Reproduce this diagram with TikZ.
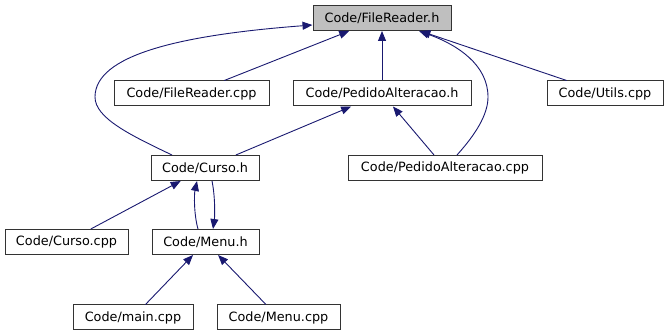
\documentclass[tikz,border=0pt]{standalone}
\usepackage{fontspec}
\setmainfont{DejaVu Sans}
\usetikzlibrary{arrows.meta,calc}
\definecolor{edgeblue}{HTML}{191970}
\definecolor{boxgray}{HTML}{BFBFBF}
\begin{document}
\begin{tikzpicture}[x=1pt,y=-1pt,
  file/.style={draw=black!80,line width=1pt,fill=white,inner sep=0pt,
    minimum height=25pt,font=\fontsize{12.8}{14}\selectfont},
  root/.style={file,fill=boxgray},
  dep/.style={draw=edgeblue,line width=0.9pt,
    -{Triangle[length=10pt,width=8pt]}}]
\useasboundingbox (0,0) rectangle (669,336);
% files
\node[root,minimum width=138pt] (frh) at (382,18) {Code/FileReader.h};
\node[file,minimum width=155pt] (frcpp) at (191.5,93.5) {Code/FileReader.cpp};
\node[file,minimum width=178pt] (pah) at (382,93.5) {Code/PedidoAlteracao.h};
\node[file,minimum width=116pt] (utils) at (605,93.5) {Code/Utils.cpp};
\node[file,minimum width=108pt] (cursoh) at (205,168) {Code/Curso.h};
\node[file,minimum width=194pt] (pacpp) at (445,168) {Code/PedidoAlteracao.cpp};
\node[file,minimum width=123pt] (cursocpp) at (66.5,242) {Code/Curso.cpp};
\node[file,minimum width=107pt] (menuh) at (205.5,242) {Code/Menu.h};
\node[file,minimum width=120pt] (maincpp) at (133,317.5) {Code/main.cpp};
\node[file,minimum width=123pt] (menucpp) at (278.5,317.5) {Code/Menu.cpp};
% include edges
\draw[dep] (frcpp) -- (frh);
\draw[dep] (pah) -- (frh);
\draw[dep] (utils) -- (frh);
\draw[dep] (cursoh) -- (pah);
\draw[dep] (pacpp) -- (pah);
\draw[dep] (cursocpp) -- (cursoh);
\draw[dep] (maincpp) -- (menuh);
\draw[dep] (menucpp) -- (menuh);
\draw[dep] ($(cursoh.north)+(-33,0)$) .. controls (130,135) and (95,118) .. (95,97)
  .. controls (95,55) and (180,35) .. ($(frh.west)+(0,7)$);
\draw[dep] ($(pacpp.north)+(12,0)$) .. controls (475,135) and (488,115) .. (488,97)
  .. controls (488,65) and (458,45) .. ($(frh.south)+(37,0)$);
\draw[dep] ($(menuh.north)+(-7.5,0)$) .. controls (194,215) and (194,195) .. ($(cursoh.south)+(-8,0)$);
\draw[dep] ($(cursoh.south)+(7,0)$) .. controls (215,195) and (215,215) .. ($(menuh.north)+(7.5,0)$);
\end{tikzpicture}
\end{document}
